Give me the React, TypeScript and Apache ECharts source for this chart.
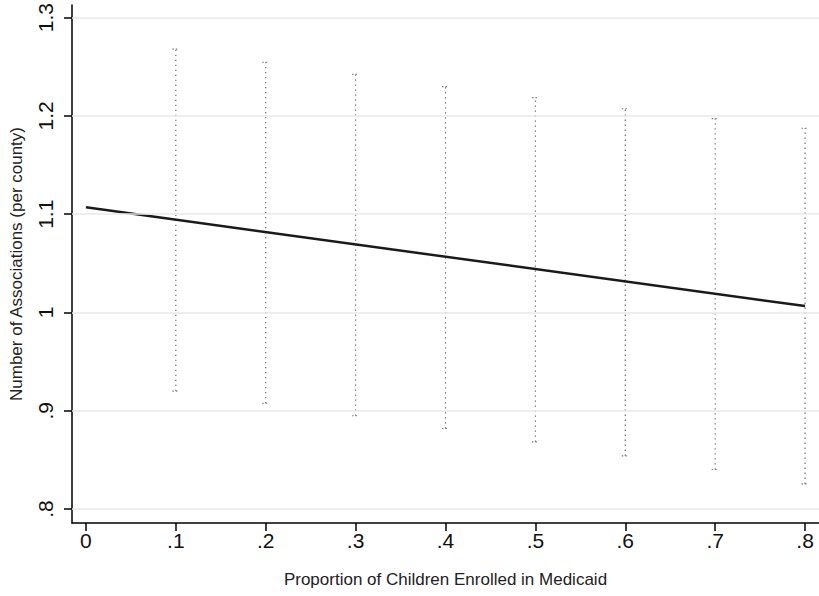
import React, { useEffect, useRef } from "react";
import * as echarts from "echarts";

// Data
const barX = [0.1, 0.2, 0.3, 0.4, 0.5, 0.6, 0.7, 0.8];
const upperCI = [1.268, 1.2546, 1.2424, 1.2298, 1.2186, 1.2074, 1.1973, 1.1875];
const lowerCI = [0.92, 0.9077, 0.895, 0.8819, 0.8684, 0.8541, 0.8402, 0.8256];
const fitX = [0, 0.8];
const fitY = [1.107, 1.0065];

const xTicks = [0, 0.1, 0.2, 0.3, 0.4, 0.5, 0.6, 0.7, 0.8];
const xTickLabels = ["0", ".1", ".2", ".3", ".4", ".5", ".6", ".7", ".8"];
const yTicks = [0.8, 0.9, 1.0, 1.1, 1.2, 1.3];
const yTickLabels = [".8", ".9", "1", "1.1", "1.2", "1.3"];

const FONT = "'Liberation Sans', Arial, Helvetica, sans-serif";

function labelFor(v: number, ticks: number[], labels: string[]) {
  for (let i = 0; i < ticks.length; i++) {
    if (Math.abs(ticks[i] - v) < 1e-6) return labels[i];
  }
  return "";
}

export default function App() {
  const ref = useRef<HTMLDivElement>(null);

  useEffect(() => {
    if (!ref.current) return;
    const chart = echarts.init(ref.current, undefined, { renderer: "svg" });

    const ciData = barX.map((x, i) => [x, lowerCI[i], upperCI[i]]);
    const fitData = fitX.map((x, i) => [x, fitY[i]]);

    const option: any = {
      animation: false,
      backgroundColor: "#ffffff",
      textStyle: { fontFamily: FONT },
      grid: { left: 67, right: 0, top: 5, bottom: 73, containLabel: false },
      xAxis: {
        type: "value",
        min: -0.0155,
        max: 0.8155,
        splitLine: { show: false },
        axisLine: { show: true, onZero: false, lineStyle: { color: "#000", width: 1.5 } },
        axisTick: {
          show: true,
          customValues: xTicks,
          length: 8,
          lineStyle: { color: "#000", width: 1.5 },
        },
        axisLabel: {
          customValues: xTicks,
          fontSize: 21,
          color: "#111",
          margin: 7,
          fontFamily: FONT,
          formatter: (v: number) => labelFor(v, xTicks, xTickLabels),
        },
        name: "Proportion of Children Enrolled in Medicaid",
        nameLocation: "middle",
        nameGap: 48,
        nameTextStyle: { fontSize: 17, color: "#222", fontFamily: FONT },
      },
      yAxis: {
        type: "value",
        min: 0.7858,
        max: 1.3129,
        splitLine: { show: false },
        axisLine: { show: true, onZero: false, lineStyle: { color: "#000", width: 1.5 } },
        axisTick: {
          show: true,
          customValues: yTicks,
          length: 8,
          lineStyle: { color: "#000", width: 1.5 },
        },
        axisLabel: {
          customValues: yTicks,
          rotate: 90,
          fontSize: 21,
          color: "#111",
          margin: 16,
          fontFamily: FONT,
          formatter: (v: number) => labelFor(v, yTicks, yTickLabels),
        },
        name: "Number of Associations (per county)",
        nameLocation: "middle",
        nameGap: 47,
        nameTextStyle: { fontSize: 17, color: "#222", fontFamily: FONT },
      },
      series: [
        {
          type: "line",
          data: [],
          silent: true,
          z: 0,
          markLine: {
            silent: true,
            symbol: ["none", "none"],
            label: { show: false },
            lineStyle: { color: "#e9e9e9", width: 1.5, type: "solid" },
            data: yTicks.map((v) => ({ yAxis: v })),
          },
        },
        {
          type: "custom",
          z: 2,
          data: ciData,
          encode: { x: 0, y: [1, 2] },
          renderItem: (params: any, api: any) => {
            const x = api.value(0);
            const lo = api.value(1);
            const hi = api.value(2);
            const pLo = api.coord([x, lo]);
            const pHi = api.coord([x, hi]);
            const cap = 3.5;
            return {
              type: "group",
              children: [
                {
                  type: "line",
                  shape: { x1: pLo[0], y1: pLo[1], x2: pHi[0], y2: pHi[1] },
                  style: { stroke: "#5f5f5f", lineWidth: 1.1, lineDash: [1.3, 3.7] },
                },
                {
                  type: "line",
                  shape: { x1: pHi[0] - cap, y1: pHi[1], x2: pHi[0] + cap, y2: pHi[1] },
                  style: { stroke: "#7a7a7a", lineWidth: 1.1, lineDash: [1.5, 2] },
                },
                {
                  type: "line",
                  shape: { x1: pLo[0] - cap, y1: pLo[1], x2: pLo[0] + cap, y2: pLo[1] },
                  style: { stroke: "#7a7a7a", lineWidth: 1.1, lineDash: [1.5, 2] },
                },
              ],
            };
          },
        },
        {
          type: "line",
          z: 3,
          data: fitData,
          symbol: "none",
          lineStyle: { color: "#1a1a1a", width: 2.5 },
          silent: true,
        },
      ],
    };

    chart.setOption(option);
    return () => chart.dispose();
  }, []);

  return (
    <div
      ref={ref}
      style={{ position: "fixed", left: 0, top: 0, width: 819, height: 596, background: "#fff" }}
    />
  );
}
